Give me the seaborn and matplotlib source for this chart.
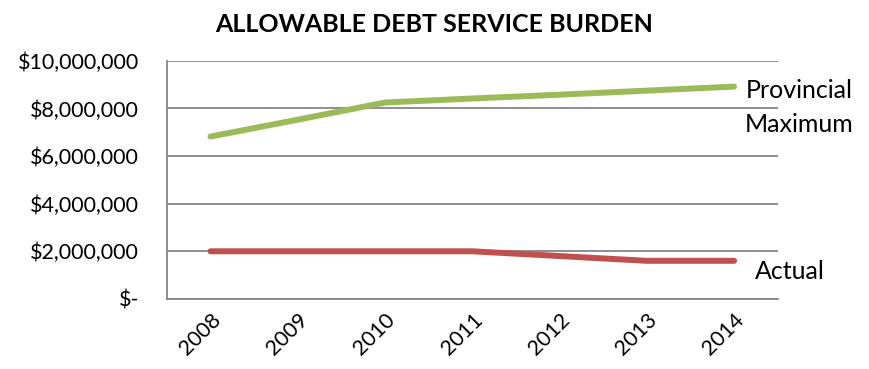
import numpy as np
import pandas as pd
import matplotlib
matplotlib.use('Agg')
import matplotlib.pyplot as plt
from matplotlib.ticker import FuncFormatter, MultipleLocator
import seaborn as sns

# ------------------------------------------------------------------
# data
# ------------------------------------------------------------------
years = [2008, 2009, 2010, 2011, 2012, 2013, 2014]
provincial_max = [6.82e6, 7.53e6, 8.25e6, 8.42e6, 8.58e6, 8.75e6, 8.92e6]
actual = [2.0e6, 2.0e6, 2.0e6, 2.0e6, 1.8e6, 1.6e6, 1.6e6]

series_names = ['Provincial\nMaximum', 'Actual']
series_colors = ['#9BBB59', '#C0504D']

df = pd.DataFrame({
    'year': years * 2,
    'value': provincial_max + actual,
    'series': [series_names[0]] * len(years) + [series_names[1]] * len(years),
})

# ------------------------------------------------------------------
# style
# ------------------------------------------------------------------
sns.set_style("white")
plt.rcParams['font.family'] = ['Lato', 'DejaVu Sans']
plt.rcParams['text.color'] = 'black'
GRAY = '#868686'

fig = plt.figure(figsize=(8.69, 3.69), dpi=100)
ax = fig.add_axes([0.192, 0.19, 0.703, 0.645])

sns.lineplot(data=df, x='year', y='value', hue='series',
             palette=dict(zip(series_names, series_colors)),
             linewidth=4.3, legend=False, ax=ax,
             solid_capstyle='round')

# axes limits / ticks
ax.set_xlim(years[0] - 0.5, years[-1] + 0.5)
ax.set_ylim(0, 10e6)
ax.yaxis.set_major_locator(MultipleLocator(2e6))
ax.yaxis.set_minor_locator(MultipleLocator(4e5))
ax.yaxis.set_major_formatter(FuncFormatter(
    lambda v, p: '$-' if v == 0 else f'${v:,.0f}'))
ax.set_xticks(years)
ax.set_xticklabels([str(y) for y in years], rotation=45, ha='right',
                   rotation_mode='anchor')
ax.xaxis.set_minor_locator(MultipleLocator(1, offset=0.5))

ax.tick_params(axis='both', which='both', direction='out', color=GRAY,
               width=1.3, labelsize=15.5, labelcolor='black')
ax.tick_params(axis='y', which='major', length=6, pad=14)
ax.tick_params(axis='y', which='minor', length=4)
ax.tick_params(axis='x', which='both', length=6, pad=2)

ax.set_xlabel('')
ax.set_ylabel('')
ax.grid(True, axis='y', which='major', color=GRAY, linewidth=1.3)
ax.set_axisbelow(True)

for side in ['top', 'right']:
    ax.spines[side].set_visible(False)
for side in ['left', 'bottom']:
    ax.spines[side].set_color(GRAY)
    ax.spines[side].set_linewidth(1.3)

# series labels at the line ends
ax.annotate(series_names[0], xy=(years[-1], provincial_max[-1]),
            xytext=(47, -15), textcoords='offset points',
            ha='center', va='center', fontsize=18, linespacing=1.55,
            color='black', annotation_clip=False)
ax.annotate(series_names[1], xy=(years[-1], actual[-1]),
            xytext=(40, -8), textcoords='offset points',
            ha='center', va='center', fontsize=18,
            color='black', annotation_clip=False)

fig.suptitle('ALLOWABLE DEBT SERVICE BURDEN', x=0.5, y=0.965,
             fontsize=18, fontweight='bold', color='black')

fig.savefig('out.png', dpi=100)
plt.close(fig)
